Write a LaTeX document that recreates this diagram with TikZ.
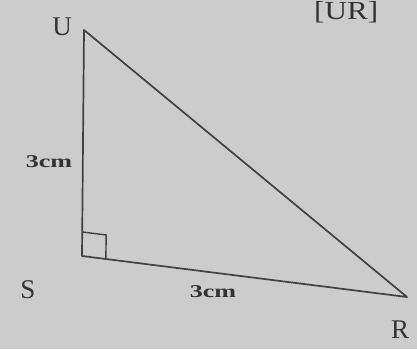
\documentclass[tikz,border=0pt]{standalone}
\usepackage{fontspec}
\setmainfont{Liberation Serif}
\usetikzlibrary{calc}
\begin{document}
\begin{tikzpicture}[x=1pt,y=1pt,
  edge/.style={draw=black!75, line width=1.7pt, line join=round},
  vlabel/.style={font=\fontsize{27}{27}\selectfont, text=black!80, inner sep=0pt},
  lenlabel/.style={font=\fontsize{18}{18}\selectfont\bfseries, text=black!80, inner sep=0pt, xscale=1.45}]
\fill[black!20] (0,0) rectangle (417,349);
\useasboundingbox (0,0) rectangle (417,349);
\node[font=\fontsize{26}{26}\selectfont, text=black!80, inner sep=0pt, anchor=north west, xscale=1.2] (top) at (314,348) {[UR]};
\coordinate (U) at (84,319);
\coordinate (S) at (82,93);
\coordinate (R) at (407,52);
\draw[edge] (U) -- (S) -- (R) -- cycle;
\draw[black!75, line width=1.4pt] ($(S)!24pt!(U)$) -- ++(24,-3) -- ($(S)!24pt!(R)$);
\node[vlabel] (lU) at (62,322) {U};
\node[vlabel] (lS) at (28,59) {S};
\node[vlabel] (lR) at (400,19) {R};
\node[lenlabel] (a) at (49,187) {3cm};
\node[lenlabel] (b) at (213,57) {3cm};
\end{tikzpicture}
\end{document}
